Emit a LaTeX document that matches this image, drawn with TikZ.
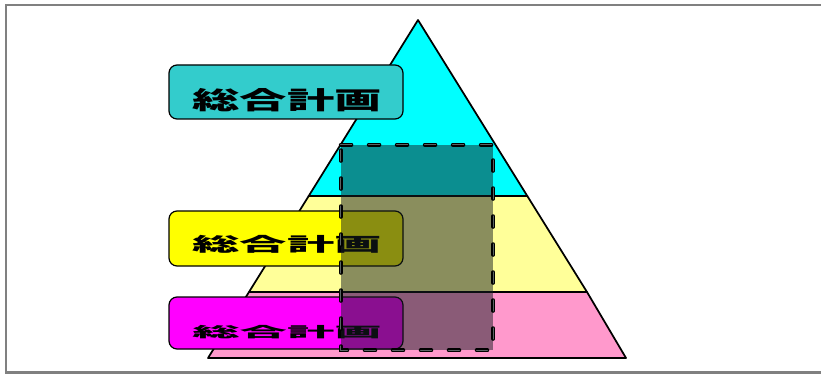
\documentclass[tikz,border=0pt]{standalone}
\usepackage{fontspec}
\newfontfamily\cjk{Noto Sans CJK JP}
\begin{document}
\begin{tikzpicture}[x=0.75pt,y=-0.75pt,
  band/.style={draw=black,line width=1.3pt,line join=round},
  lbox/.style={draw=black,line width=0.9pt,rounded corners=6pt,inner sep=0pt,minimum width=234*0.75pt},
  lbl/.style={font=\cjk\bfseries\fontsize{35.5}{35.5}\selectfont,inner sep=0pt},
  ovfill/.style={fill={rgb,255:red,22;green,31;blue,35},fill opacity=0.5},
  ovline/.style={draw=black,line width=0.9pt,double={rgb,255:red,90;green,100;blue,100},double distance=1.1pt,dash pattern=on 8pt off 13pt,line cap=round}]
\useasboundingbox (0,0) rectangle (821,374);
\fill[white] (0,0) rectangle (821,374);
\draw[gray,line width=2.2pt] (830,5) -- (6,5) -- (6,372.5) -- (830,372.5);
% pyramid
\coordinate (apex) at (418,20);
\coordinate (bl) at (208,358);
\coordinate (br) at (626,358);
\coordinate (l1) at (308.7,196);
\coordinate (r1) at (527.3,196);
\coordinate (l2) at (249.0,292);
\coordinate (r2) at (587.0,292);
\filldraw[band,fill={rgb,255:red,255;green,153;blue,204}] (l2) -- (r2) -- (br) -- (bl) -- cycle;
\filldraw[band,fill={rgb,255:red,255;green,255;blue,153}] (l1) -- (r1) -- (r2) -- (l2) -- cycle;
\filldraw[band,fill={rgb,255:red,0;green,255;blue,255}] (apex) -- (r1) -- (l1) -- cycle;
% label boxes
\node[lbox,fill={rgb,255:red,51;green,204;blue,204},minimum height=54*0.75pt] (b1) at (286,92) {};
\node[lbox,fill={rgb,255:red,255;green,255;blue,0},minimum height=55*0.75pt] (b2) at (286,238.5) {};
\node[lbox,fill={rgb,255:red,255;green,0;blue,255},minimum height=52*0.75pt] (b3) at (286,323) {};
\node[lbl] (t1) at (287,100.5) {\scalebox{1}[0.52]{総合計画}};
\node[lbl] (t2) at (287,244) {\scalebox{1}[0.40]{総合計画}};
\node[lbl] (t3) at (287,332) {\scalebox{1}[0.30]{総合計画}};
% overlay rectangle
\node[ovfill,minimum width=152*0.75pt,minimum height=205*0.75pt,inner sep=0pt] (ov) at (417,247.5) {};
\draw[ovline] (ov.north west) -- (ov.north east) -- (ov.south east) -- (ov.south west) -- cycle;
\end{tikzpicture}
\end{document}
